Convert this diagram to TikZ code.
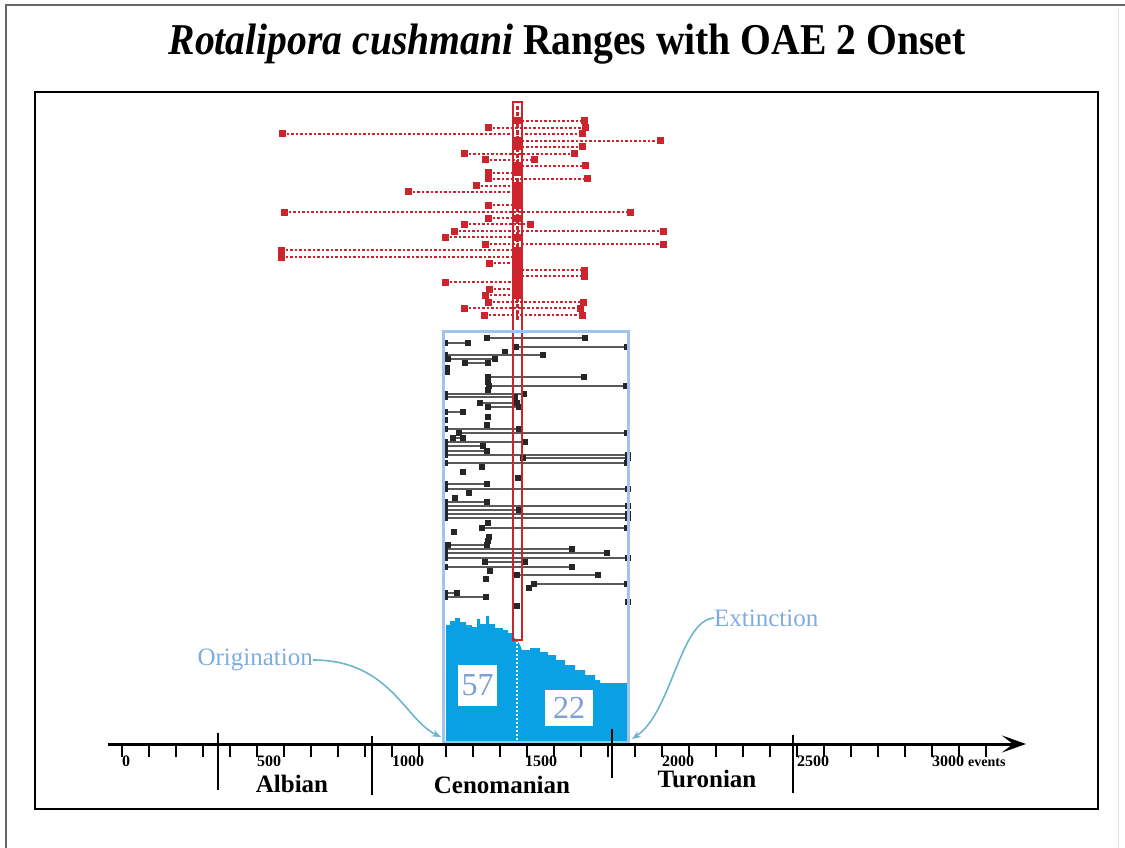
\documentclass[tikz,border=0pt]{standalone}
\usepackage{fontspec}
\setmainfont{Liberation Serif}
\usetikzlibrary{arrows.meta}
\definecolor{rcol}{RGB}{205,35,45}
\definecolor{boxblue}{RGB}{160,196,238}
\definecolor{histblue}{RGB}{10,160,228}
\definecolor{numblue}{RGB}{122,160,214}
\definecolor{lblblue}{RGB}{125,172,228}
\definecolor{arrteal}{RGB}{110,180,205}
\definecolor{bline}{RGB}{90,90,90}
\tikzset{
  rline/.style={rcol, line width=1.4pt, dash pattern=on 2.5pt off 2pt},
  rdot/.style={fill=rcol},
  bl/.style={bline, line width=1.6pt},
  bdot/.style={fill=black!85},
  axisline/.style={line width=3pt, black},
  minortick/.style={line width=1.8pt, black},
  majortick/.style={line width=2.6pt, black},
  ticklbl/.style={font=\bfseries\fontsize{16}{18}\selectfont, anchor=west, inner sep=0pt},
  eralbl/.style={font=\bfseries\fontsize{25}{28}\selectfont, inner sep=0pt},
  evlbl/.style={font=\fontsize{25}{28}\selectfont, text=lblblue, inner sep=0pt},
  numbox/.style={fill=white, text=numblue, font=\fontsize{32}{34}\selectfont, inner sep=0pt},
  curvearrow/.style={arrteal, line width=1.6pt, -{Stealth[length=9pt,width=7pt]}}
}
\begin{document}
\begin{tikzpicture}[x=1pt,y=-1pt]
\useasboundingbox (0,0) rectangle (1125,848);
% frames
\draw[black!60, line width=2pt] (6,848) -- (6,5) -- (1125,5);
\draw[black!12, line width=1pt] (1118,8) -- (1118,848);
\draw[black, line width=2pt] (35,92) rectangle (1098,809);
% title
\node[anchor=base, inner sep=0pt] (title) at (567,55) {\scalebox{0.9}[1]{\fontsize{44}{50}\selectfont\bfseries\textit{Rotalipora cushmani} Ranges with OAE 2 Onset}};

% histogram
\fill[histblue] (446,742) -- (446,625) -- (450,625) -- (450,621) -- (455,621) -- (455,618) -- (460,618) -- (460,622) -- (466,622) -- (466,625) -- (472,625) -- (472,627) -- (477,627) -- (477,619) -- (480,619) -- (480,624) -- (486,624) -- (486,616) -- (489,616) -- (489,624) -- (495,624) -- (495,628) -- (503,628) -- (503,630) -- (508,630) -- (508,633) -- (512,633) -- (512,636) -- (517,640) -- (520,645) -- (522,650) -- (530,650) -- (530,648) -- (540,648) -- (540,652) -- (548,652) -- (548,655) -- (556,655) -- (556,660) -- (565,660) -- (565,665) -- (575,665) -- (575,670) -- (585,670) -- (585,675) -- (595,675) -- (595,680) -- (600,680) -- (600,683) -- (627,683) -- (627,742) -- cycle;
\draw[white, line width=1.3pt, dash pattern=on 2pt off 2pt] (517,642) -- (517,742);
\node[numbox, minimum width=39pt, minimum height=41pt] (n57) at (477.5,685.5) {57};
\node[numbox, minimum width=48pt, minimum height=36pt] (n22) at (569,708) {22};

% red ranges
\draw[rcol, line width=3pt, dash pattern=on 4pt off 2pt] (517,106) -- (517,320);
\foreach \y/\a/\b in {121/517/584, 128/488/585, 134/282/582, 141/517/660, 147/517/582, 154/464/574, 160/485/534, 166/517/585, 173/488/517, 179/488/587, 186/476/517, 192/408/517, 205/488/517, 212/284/630, 218/488/517, 224/464/530, 231/454/663, 237/445/517, 244/485/663, 250/281/517, 257/281/517, 263/489/517, 270/517/584, 276/517/584, 282/445/517, 289/489/517, 295/485/517, 302/488/583, 308/464/580, 315/484/582}{
  \draw[rline] (\a,\y) -- (\b,\y);
  \fill[rdot] ({\a-3.5},{\y-3.5}) rectangle ++(7,7);
  \fill[rdot] ({\b-3.5},{\y-3.5}) rectangle ++(7,7);
}
\fill[rdot] (513.5,194.5) rectangle ++(7,7);

% black ranges
\foreach \y/\a/\b in {338/487/585, 343/445/468, 347/516/627, 352/505/505, 355/445/543, 359/448/495, 363/465/488, 368/447/447, 372/447/447, 377/488/584, 382/488/488, 386/489/626, 390/488/488, 394/445/524, 397/445/515, 403/480/517, 407/488/519, 412/445/463, 417/488/488, 420/445/445, 425/487/487, 429/445/519, 433/459/627, 438/453/463, 442/445/525, 446/445/483, 451/445/487, 455/445/628, 458/523/628, 463/445/627, 467/482/482, 472/463/463, 478/518/518, 484/445/487, 489/445/628, 493/469/469, 498/455/455, 502/445/487, 506/445/628, 510/445/519, 514/445/628, 518/445/628, 523/488/488, 528/482/627, 532/454/454, 537/489/489, 541/488/488, 545/448/487, 549/445/572, 553/445/607, 558/445/628, 562/485/525, 567/445/572, 571/490/490, 575/517/598, 579/486/486, 584/534/627, 588/529/529, 593/445/457, 597/445/486, 602/628/628, 606/517/517}{
  \draw[bl] (\a,\y) -- (\b,\y);
  \fill[bdot] ({\a-3},{\y-3}) rectangle ++(6,6);
  \fill[bdot] ({\b-3},{\y-3}) rectangle ++(6,6);
}

% OAE2 red box
\draw[rcol, line width=2pt] (513,102) rectangle (522,640);
% blue box
\draw[boxblue, line width=3pt] (443,331) rectangle (628,742);

% axis
\coordinate (axstart) at (108,744);
\coordinate (axend) at (1026,744);
\draw[axisline, -{Stealth[length=24pt,width=17pt,inset=11pt]}] (axstart) -- (axend);
\foreach \k in {0,...,32}{
  \draw[minortick] ({122+27*\k},744) -- ({122+27*\k},757);
}
\draw[majortick] (218,733) -- (218,790);
\draw[majortick] (372,736) -- (372,795);
\draw[majortick] (612,729) -- (612,778);
\draw[majortick] (793,735) -- (793,793);
\node[ticklbl] (t0) at (122,761) {0};
\node[ticklbl] (t500) at (257,761) {500};
\node[ticklbl] (t1000) at (392,761) {1000};
\node[ticklbl] (t1500) at (525,761) {1500};
\node[ticklbl] (t2000) at (662,761) {2000};
\node[ticklbl] (t2500) at (797,761) {2500};
\node[ticklbl] (t3000) at (932,761) {3000 {\fontsize{14}{16}\selectfont events}};
\node[eralbl] (albian) at (292,784) {Albian};
\node[eralbl] (ceno) at (502,785) {Cenomanian};
\node[eralbl] (turo) at (707,779) {Turonian};

% labels and arrows
\node[evlbl, anchor=east] (orig) at (313,660) {Origination};
\node[evlbl, anchor=west] (ext) at (714,618) {Extinction};
\coordinate (origtip) at (441,737);
\coordinate (exttip) at (632,739);
\draw[curvearrow] (orig.east) .. controls (390,660) and (405,720) .. (origtip);
\draw[curvearrow] (ext.west) .. controls (680,620) and (672,712) .. (exttip);
\end{tikzpicture}
\end{document}
